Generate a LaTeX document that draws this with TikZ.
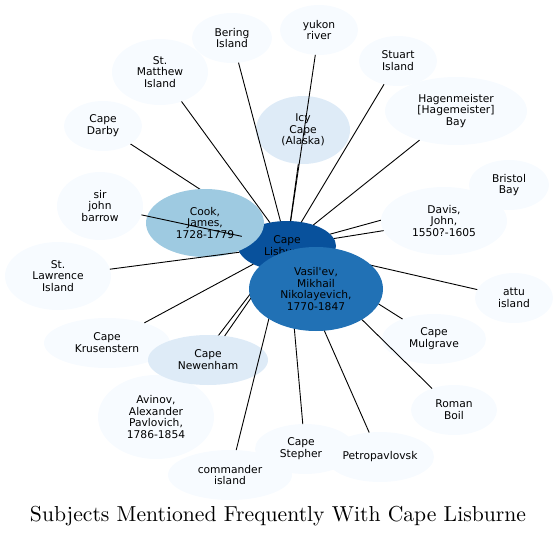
\documentclass[tikz,border=0pt]{standalone}
\usepackage{fontspec}
\usepackage{graphicx}
\usetikzlibrary{shapes.geometric,backgrounds}
\newfontfamily\dvs{DejaVu Sans}[Ligatures=TeXOff]
\definecolor{bzero}{HTML}{F7FBFF}
\definecolor{bone}{HTML}{DEEBF7}
\definecolor{bthree}{HTML}{9ECAE1}
\definecolor{bfive}{HTML}{2171B5}
\definecolor{bsix}{HTML}{08519C}
\tikzset{
  nd/.style={ellipse, inner sep=0pt, outer sep=0pt, align=center, fill=bzero,
    font=\dvs\fontsize{10.7}{11.8}\selectfont},
  sz/.style 2 args={minimum width=#1pt, minimum height=#2pt},
  link/.style={draw=black, line width=0.9pt},
}
\begin{document}
\begin{tikzpicture}[x=1pt,y=-1pt]
\useasboundingbox (0,0) rectangle (558,536);
% centre node
\node[nd, sz={98}{50}, fill=bsix] (lis) at (287,246) {Cape\\Lisburne};
% light nodes
\node[nd, sz={80}{50}] (bering) at (232,38) {Bering\\Island};
\node[nd, sz={78}{50}] (yukon) at (319,30) {yukon\\river};
\node[nd, sz={96}{66}] (stmatthew) at (160,72) {St.\\Matthew\\Island};
\node[nd, sz={78}{50}] (stuart) at (398,61) {Stuart\\Island};
\node[nd, sz={94}{68}, fill=bone] (icy) at (303,130) {Icy\\Cape\\(Alaska)};
\node[nd, sz={142}{68}] (hagen) at (456,111) {Hagenmeister\\{[}Hagemeister{]}\\Bay};
\node[nd, sz={78}{50}] (darby) at (103,126) {Cape\\Darby};
\node[nd, sz={80}{50}] (bristol) at (509,185) {Bristol\\Bay};
\node[nd, sz={86}{68}] (sjb) at (100,206) {sir\\john\\barrow};
\node[nd, sz={118}{68}, fill=bthree] (cook) at (205,223) {Cook,\\James,\\1728-1779};
\node[nd, sz={126}{68}] (davis) at (444,221) {Davis,\\John,\\1550?-1605};
\node[nd, sz={106}{68}] (stlawrence) at (58,276) {St.\\Lawrence\\Island};
\node[nd, sz={78}{50}] (attu) at (514,298) {attu\\island};
\node[nd, sz={126}{50}] (krusenstern) at (107,343) {Cape\\Krusenstern};
\node[nd, sz={104}{50}] (mulgrave) at (434,339) {Cape\\Mulgrave};
\node[nd, sz={116}{84}] (avinov) at (156,417) {Avinov,\\Alexander\\Pavlovich,\\1786-1854};
\node[nd, sz={120}{50}, fill=bone] (newenham) at (208,360) {Cape\\Newenham};
\node[nd, sz={86}{50}] (roman) at (454,410) {Roman\\Boil};
\node[nd, sz={100}{50},
  label={[inner sep=0pt, align=center, xshift=-4pt, font=\dvs\fontsize{10.7}{11.8}\selectfont]center:Cape\\Stepher}]
  (stephen) at (305,449) {};
\node[nd, sz={108}{50}] (petro) at (380,457) {Petropavlovsk};
\node[nd, sz={124}{50}] (commander) at (230,475) {commander\\island};
% edges partly hidden under nodes
\begin{pgfonlayer}{background}
\draw[link] (lis) -- (darby);
\draw[link] (lis) -- (bristol);
\draw[link] (lis) -- (avinov);
\draw[link] (lis) -- (cook);
\end{pgfonlayer}
% visible edges
\foreach \t in {bering,yukon,stmatthew,stuart,icy,hagen,sjb,davis,stlawrence,attu,krusenstern,newenham,mulgrave,roman,stephen,petro,commander}
  \draw[link] (lis) -- (\t);
% Vasil'ev node on top
\node[nd, sz={134}{84}, fill=bfive] (vas) at (316,289) {Vasil'ev,\\Mikhail\\Nikolayevich,\\1770-1847};
\begin{pgfonlayer}{background}
\draw[link] (lis) -- (vas);
\end{pgfonlayer}
% title
\node[anchor=base, inner sep=0pt] (title) at (278,521) {\resizebox{496pt}{!}{Subjects Mentioned Frequently With Cape Lisburne}};
\end{tikzpicture}
\end{document}
